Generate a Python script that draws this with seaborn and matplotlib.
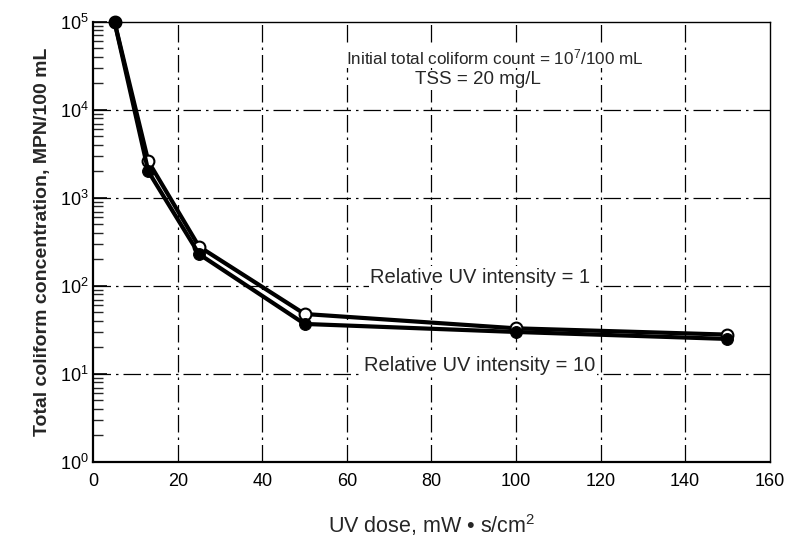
import pandas as pd
import seaborn as sns
import matplotlib.pyplot as plt

# UV dose (mW·s/cm2) and total coliform (MPN/100 mL)
uv_dose = [5, 13, 25, 50, 100, 150]
coliform_int1 = [100000, 2600, 280, 48, 33, 28]    # relative UV intensity = 1 (open)
coliform_int10 = [100000, 2000, 230, 37, 30, 25]   # relative UV intensity = 10 (filled)

x_ticks = [0, 20, 40, 60, 80, 100, 120, 140, 160]
y_ticks = [1, 10, 100, 1000, 10000, 100000]

sns.set_theme(style="white")
plt.rcParams["font.family"] = ["Liberation Sans", "DejaVu Sans"]
plt.rcParams["mathtext.fontset"] = "custom"
plt.rcParams["mathtext.rm"] = "Liberation Sans"
plt.rcParams["mathtext.it"] = "Liberation Sans:italic"
plt.rcParams["mathtext.bf"] = "Liberation Sans:bold"

df = pd.DataFrame({
    "dose": uv_dose,
    "int1": coliform_int1,
    "int10": coliform_int10,
})

fig = plt.figure(figsize=(8.05, 5.6), dpi=100)
ax = fig.add_axes([0.116, 0.175, 0.84, 0.786])

grid_style = dict(color="black", lw=0.9, linestyle=(0, (14, 4, 2, 4)), zorder=0)
for xv in x_ticks[1:-1]:
    ax.axvline(xv, **grid_style)
for yv in y_ticks[1:-1]:
    ax.axhline(yv, **grid_style)

sns.lineplot(data=df, x="dose", y="int1", ax=ax, color="black", lw=3,
             marker="o", markersize=8.5, markerfacecolor="white",
             markeredgecolor="black", markeredgewidth=1.5, zorder=3,
             clip_on=False)
sns.lineplot(data=df, x="dose", y="int10", ax=ax, color="black", lw=3,
             marker="o", markersize=8.5, markerfacecolor="black",
             markeredgecolor="black", zorder=4, clip_on=False)

ax.set_yscale("log")
ax.set_xlim(0, 160)
ax.set_ylim(1, 100000)
ax.set_xticks(x_ticks)
ax.set_yticks(y_ticks)
ax.tick_params(axis="both", labelsize=13, colors="black")
ax.tick_params(axis="x", length=0, pad=8)
ax.tick_params(axis="y", which="major", direction="in", length=10, width=1.2, left=True)
ax.tick_params(axis="y", which="minor", direction="in", length=7, width=1.0, left=True)

for side in ["left", "bottom"]:
    ax.spines[side].set_color("black")
    ax.spines[side].set_linewidth(1.6)
for side in ["top", "right"]:
    ax.spines[side].set_color("black")
    ax.spines[side].set_linewidth(1.0)

ax.set_xlabel("UV dose, mW \u2022 s/cm$^2$", fontsize=15.5, labelpad=16)
ax.set_ylabel("Total coliform concentration, MPN/100 mL", fontsize=14,
              fontweight="bold", labelpad=6)

box = dict(facecolor="white", edgecolor="none", pad=1)
ax.text(95, 10**4.6, "Initial total coliform count = 10$^7$/100 mL",
        ha="center", va="center", fontsize=12.3, bbox=box)
ax.text(91, 10**4.34, "TSS = 20 mg/L", ha="center", va="center",
        fontsize=13.5, bbox=box)
ax.text(91.5, 10**2.1, "Relative UV intensity = 1", ha="center", va="center",
        fontsize=14.5, bbox=box, zorder=5)
ax.text(91.5, 10**1.1, "Relative UV intensity = 10", ha="center", va="center",
        fontsize=14.5, bbox=box, zorder=5)

fig.savefig("out.png", dpi=100, facecolor="white")
